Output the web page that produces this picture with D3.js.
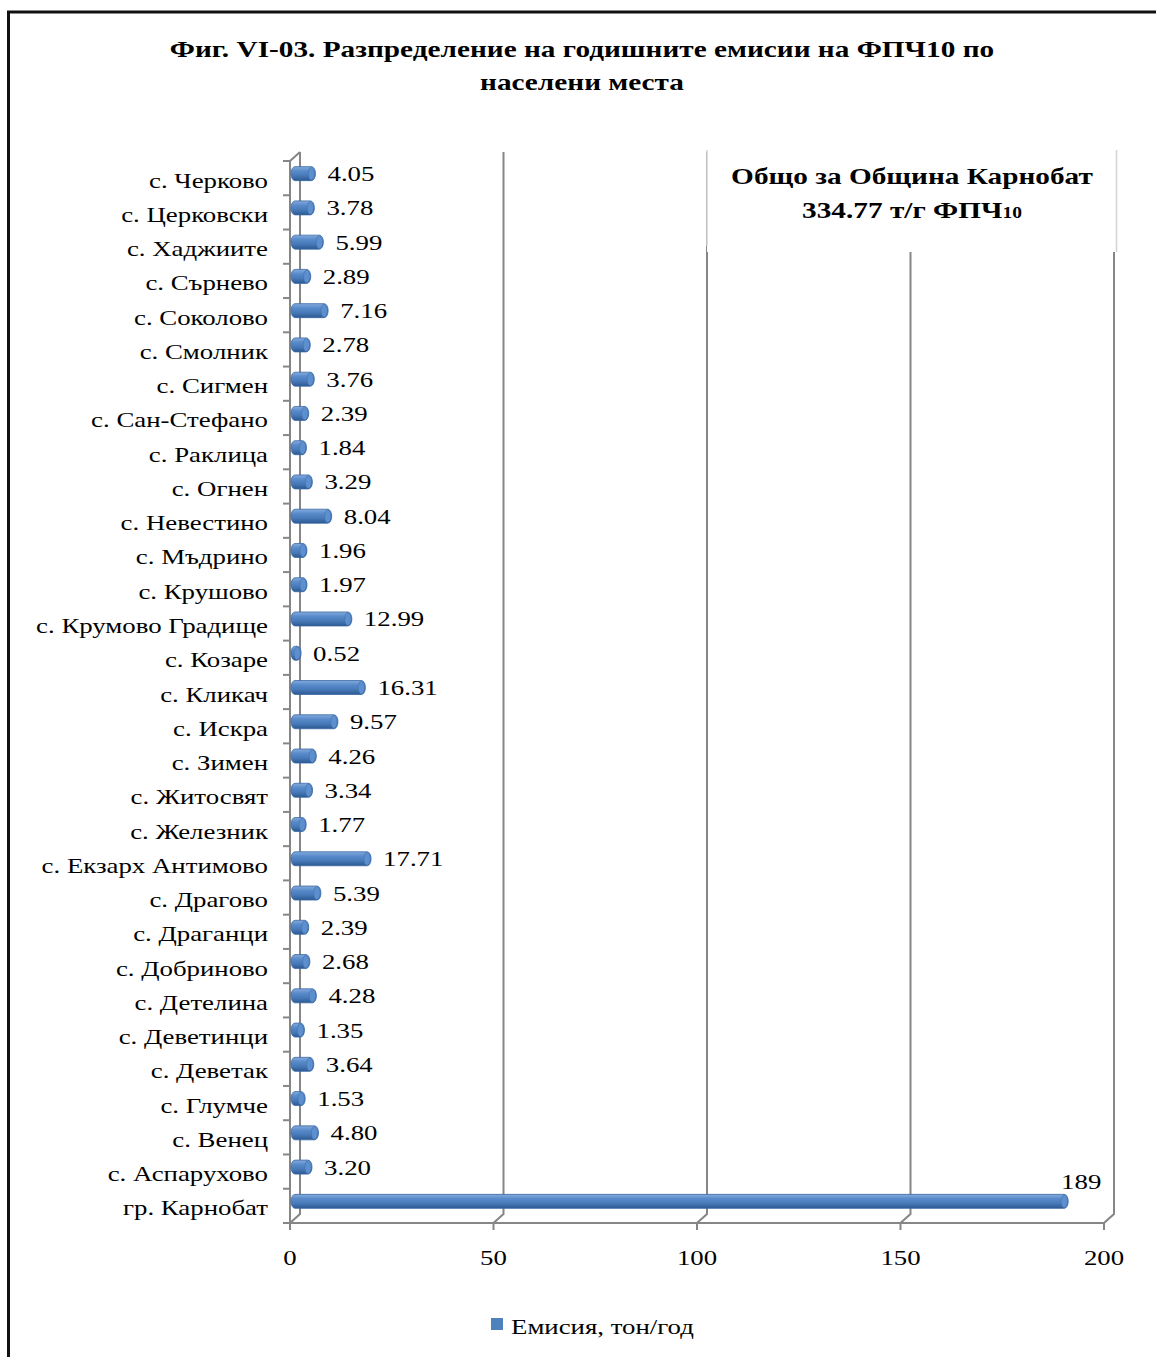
<!DOCTYPE html>
<html>
<head>
<meta charset="utf-8">
<script src="https://cdn.jsdelivr.net/npm/d3@7"></script>
<style>
  body { margin: 0; background: #fff; }
  svg text { font-family: "Liberation Serif", "Times New Roman", serif; fill: #000; }
</style>
</head>
<body>
<script>
// categories, top to bottom as in the figure
const places = [
  'с. Черково', 'с. Церковски', 'с. Хаджиите', 'с. Сърнево', 'с. Соколово',
  'с. Смолник', 'с. Сигмен', 'с. Сан-Стефано', 'с. Раклица', 'с. Огнен',
  'с. Невестино', 'с. Мъдрино', 'с. Крушово', 'с. Крумово Градище', 'с. Козаре',
  'с. Кликач', 'с. Искра', 'с. Зимен', 'с. Житосвят', 'с. Железник',
  'с. Екзарх Антимово', 'с. Драгово', 'с. Драганци', 'с. Добриново', 'с. Детелина',
  'с. Деветинци', 'с. Деветак', 'с. Глумче', 'с. Венец', 'с. Аспарухово',
  'гр. Карнобат'
];
const emissions = [
  4.05, 3.78, 5.99, 2.89, 7.16,
  2.78, 3.76, 2.39, 1.84, 3.29,
  8.04, 1.96, 1.97, 12.99, 0.52,
  16.31, 9.57, 4.26, 3.34, 1.77,
  17.71, 5.39, 2.39, 2.68, 4.28,
  1.35, 3.64, 1.53, 4.80, 3.20,
  189
];
const xTicks = [0, 50, 100, 150, 200];
const titleLines = ['Фиг. VI-03. Разпределение на годишните емисии на ФПЧ10 по', 'населени места'];
const seriesName = 'Емисия, тон/год';

const W = 1156, H = 1357;
const depthX = 10, depthY = -9;
const grid = '#868686';
const SX = 1.22; // the figure's lettering is drawn a bit wide

// move x/y into a transform so the glyphs can be widened around their anchor
function stretch(sel) {
  sel.each(function () {
    const t = d3.select(this);
    const px = +t.attr('x'), py = +t.attr('y');
    t.attr('transform', `translate(${px},${py}) scale(${SX},1)`).attr('x', 0).attr('y', 0);
  });
}

const svg = d3.select('body').append('svg')
  .attr('width', W).attr('height', H);

const defs = svg.append('defs');
const grad = defs.append('linearGradient')
  .attr('id', 'cyl').attr('x1', 0).attr('y1', 0).attr('x2', 0).attr('y2', 1);
grad.append('stop').attr('offset', '0%').attr('stop-color', '#86abdc');
grad.append('stop').attr('offset', '30%').attr('stop-color', '#5a8ccb');
grad.append('stop').attr('offset', '65%').attr('stop-color', '#4779b8');
grad.append('stop').attr('offset', '100%').attr('stop-color', '#2c5890');

// frame (top and left edges are visible in the figure)
svg.append('path')
  .attr('d', `M8.5,${H} L8.5,12 L${W},12`)
  .attr('fill', 'none').attr('stroke', '#111').attr('stroke-width', 3);

// title
svg.append('g').selectAll('text')
  .data(titleLines).join('text')
  .attr('x', 582).attr('y', (d, i) => 57 + i * 33)
  .attr('text-anchor', 'middle')
  .attr('font-weight', 'bold').attr('font-size', 24)
  .text(d => d)
  .call(stretch);

const x = d3.scaleLinear().domain([0, 200]).range([290, 1104]);
const y = d3.scaleBand().domain(places).range([161, 1223]);

const floorY = y.range()[1];
const topY = y.range()[0];

// back wall gridlines with the floor diagonals and ticks
const g = svg.append('g').attr('fill', 'none').attr('stroke', grid).attr('stroke-width', 2);
xTicks.forEach(t => {
  const xf = x(t), xb = x(t) + depthX;
  g.append('path')
    .attr('d', `M${xb},${topY + depthY} L${xb},${floorY + depthY} L${xf},${floorY} L${xf},${floorY + 7}`);
});
// left axis (front) and top diagonal
g.append('path')
  .attr('d', `M${x(0) + depthX},${topY + depthY} L${x(0)},${topY} L${x(0)},${floorY} L${x(200)},${floorY}`);
// category ticks
g.selectAll('line.ctick')
  .data(places.map(p => y(p)).concat([floorY]))
  .join('line')
  .attr('x1', x(0) - 7).attr('x2', x(0))
  .attr('y1', d => d).attr('y2', d => d);

// text box over the back wall
svg.append('rect')
  .attr('x', 707).attr('y', 147).attr('width', 409).attr('height', 105)
  .attr('fill', '#fff');
svg.append('path')
  .attr('d', 'M707,150 L707,246 M1116.5,150 L1116.5,252')
  .attr('stroke', '#d4d4d4').attr('stroke-width', 1.5).attr('fill', 'none');
svg.append('text')
  .attr('x', 912).attr('y', 184).attr('text-anchor', 'middle')
  .attr('font-weight', 'bold').attr('font-size', 24)
  .text('Общо за Община Карнобат')
  .call(stretch);
const t2 = svg.append('text')
  .attr('x', 912).attr('y', 218).attr('text-anchor', 'middle')
  .attr('font-weight', 'bold').attr('font-size', 24);
t2.append('tspan').text('334.77 т/г  ФПЧ');
t2.append('tspan').attr('font-size', 16).text('10');
t2.call(stretch);

// bars as cylinders
const barH = 14, rx = 4;
const fmt = v => Number.isInteger(v) ? String(v) : v.toFixed(2);
const bars = svg.append('g');
places.forEach((p, i) => {
  const v = emissions[i];
  const cy = y(p) + y.bandwidth() / 2 + depthY / 2;
  const x0 = x(0) + depthX / 2;
  const x1 = x(v) + depthX / 2;
  const t = cy - barH / 2, b = cy + barH / 2;
  bars.append('path')
    .attr('d', `M${x0},${t} L${x1},${t} A${rx},${barH / 2} 0 0 1 ${x1},${b} L${x0},${b} A${rx},${barH / 2} 0 0 1 ${x0},${t} Z`)
    .attr('fill', 'url(#cyl)')
    .attr('stroke', '#3a6aa6').attr('stroke-width', 0.8);
  bars.append('ellipse')
    .attr('cx', x1).attr('cy', cy).attr('rx', rx * 0.8).attr('ry', barH / 2 - 0.5)
    .attr('fill', '#5d8ecd').attr('stroke', '#3f70ad').attr('stroke-width', 0.6);

  const label = bars.append('text').attr('font-size', 22).text(fmt(v));
  if (x1 + rx + 60 > x(200)) {
    label.attr('x', x1 + rx + 13).attr('y', t - 5).attr('text-anchor', 'middle');
  } else {
    label.attr('x', x1 + rx + 12).attr('y', cy + 7.5);
  }
  label.call(stretch);
});

// category labels
svg.append('g').selectAll('text')
  .data(places).join('text')
  .attr('x', 268).attr('y', d => y(d) + y.bandwidth() / 2 + 9.5)
  .attr('text-anchor', 'end')
  .attr('font-size', 22)
  .text(d => d)
  .call(stretch);

// value axis labels
svg.append('g').selectAll('text')
  .data(xTicks).join('text')
  .attr('x', d => x(d)).attr('y', 1265)
  .attr('text-anchor', 'middle').attr('font-size', 22)
  .text(d => d)
  .call(stretch);

// legend
svg.append('rect')
  .attr('x', 491).attr('y', 1318).attr('width', 12).attr('height', 12)
  .attr('fill', '#4f81bd');
svg.append('text')
  .attr('x', 511).attr('y', 1334).attr('font-size', 22)
  .text(seriesName)
  .call(stretch);
</script>
</body>
</html>
